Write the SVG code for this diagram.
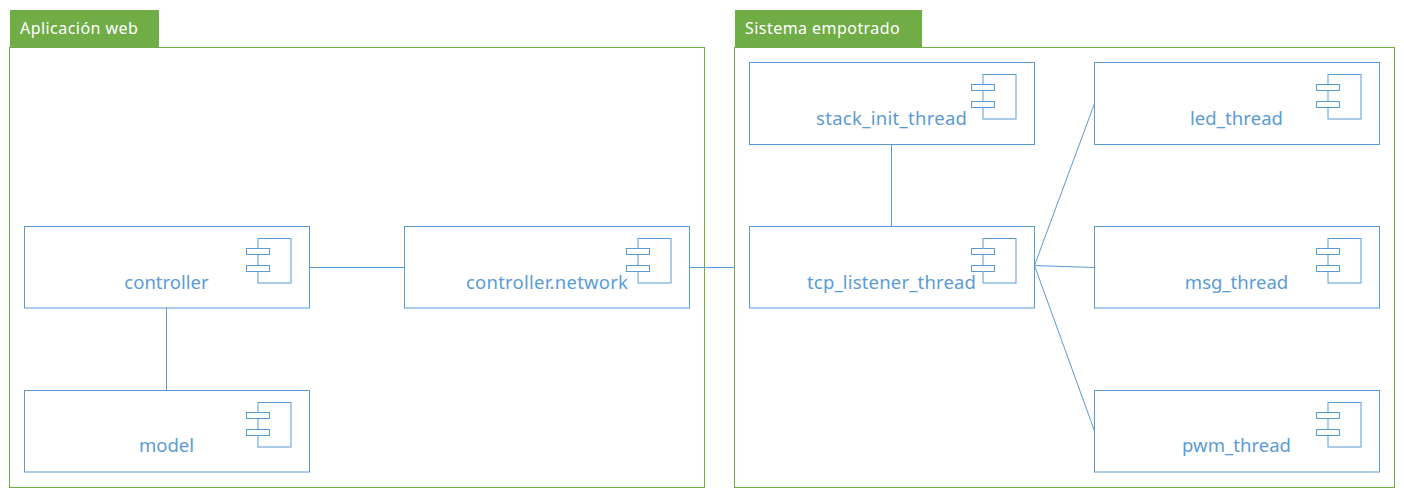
<svg xmlns="http://www.w3.org/2000/svg" width="1404" height="496" viewBox="0 0 1404 496">
<style>
.pkg{fill:none;stroke:#70ad47;stroke-width:1}
.tab{fill:#70ad47}
.tabt{font-family:"Noto Sans","Open Sans",sans-serif;font-size:16px;letter-spacing:.45px;fill:#fff}
.box{fill:#fff;stroke:#5b9bd5;stroke-width:1}
.ic{fill:#fff;stroke:#5b9bd5;stroke-width:1}
.lbl{font-family:"Noto Sans","Open Sans",sans-serif;font-size:18.5px;fill:#5b9bd5;text-anchor:middle}
.con{stroke:#5b9bd5;stroke-width:1;fill:none}
</style>
<defs>
<g id="icon">
<rect class="ic" x="-51.5" y="12.5" width="33" height="44.5"/>
<rect class="ic" x="-63" y="22.5" width="23" height="6"/>
<rect class="ic" x="-63" y="39.5" width="23" height="6"/>
</g>
</defs>
<g id="pkg-web">
<rect class="tab" x="10" y="10" width="149" height="38"/>
<rect class="pkg" x="9.5" y="47.5" width="695" height="440"/>
<text class="tabt" x="20" y="34">Aplicación web</text>
</g>
<g id="pkg-emb">
<rect class="tab" x="735" y="10" width="187" height="38"/>
<rect class="pkg" x="734.5" y="47.5" width="660" height="440"/>
<text class="tabt" x="745" y="34">Sistema empotrado</text>
</g>
<g id="connectors">
<path class="con" d="M309.5 267.5H404.5"/>
<path class="con" d="M689.5 267.5H734.5"/>
<path class="con" d="M166.5 308V390.5"/>
<path class="con" d="M891.5 144.5V226.5"/>
<path class="con" d="M1034.5 265.5L1094.5 103.5"/>
<path class="con" d="M1034.5 265.5L1094.5 267.5"/>
<path class="con" d="M1034.5 265.5L1094.5 431"/>
</g>
<g id="controller"><rect class="box" x="24.5" y="226.5" width="285" height="81.5"/><use href="#icon" x="309.5" y="226"/><text class="lbl" x="166.5" y="289">controller</text></g>
<g id="controller-network"><rect class="box" x="404.5" y="226.5" width="285" height="81.5"/><use href="#icon" x="689.5" y="226"/><text class="lbl" x="547" y="289" textLength="162">controller.network</text></g>
<g id="model"><rect class="box" x="24.5" y="390.5" width="285" height="81.5"/><use href="#icon" x="309.5" y="390"/><text class="lbl" x="166.5" y="452">model</text></g>
<g id="stack_init_thread"><rect class="box" x="749.5" y="62.5" width="285" height="82"/><use href="#icon" x="1034.5" y="62"/><text class="lbl" x="891.5" y="125" textLength="151">stack_init_thread</text></g>
<g id="tcp_listener_thread"><rect class="box" x="749.5" y="226.5" width="285" height="81.5"/><use href="#icon" x="1034.5" y="226"/><text class="lbl" x="891.5" y="289" textLength="169">tcp_listener_thread</text></g>
<g id="led_thread"><rect class="box" x="1094.5" y="62.5" width="285" height="82"/><use href="#icon" x="1379.5" y="62"/><text class="lbl" x="1236.5" y="125" textLength="93">led_thread</text></g>
<g id="msg_thread"><rect class="box" x="1094.5" y="226.5" width="285" height="81.5"/><use href="#icon" x="1379.5" y="226"/><text class="lbl" x="1236.5" y="289">msg_thread</text></g>
<g id="pwm_thread"><rect class="box" x="1094.5" y="390.5" width="285" height="81.5"/><use href="#icon" x="1379.5" y="390"/><text class="lbl" x="1236.5" y="452" textLength="109">pwm_thread</text></g>
</svg>
